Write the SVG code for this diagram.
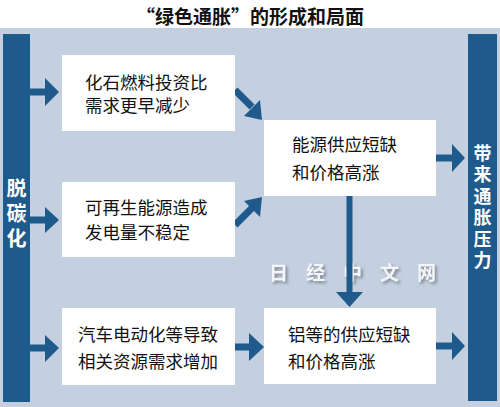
<svg xmlns="http://www.w3.org/2000/svg" width="500" height="407" viewBox="0 0 500 407">
<style>
.bar{fill:#1f5a8c}
.box{fill:#ffffff}
.arr{fill:#1f5a8c}
.shaft{stroke:#1f5a8c;stroke-width:7;fill:none}
.t{font-family:"Noto Sans CJK SC","Noto Sans",sans-serif;font-size:17.5px;fill:#111}
.bt{font-family:"Noto Sans CJK SC","Noto Sans",sans-serif;font-size:18px;font-weight:bold;fill:#fff;writing-mode:vertical-rl;text-anchor:start}
.title{font-family:"Noto Sans CJK SC","Noto Sans",sans-serif;font-size:19px;font-weight:bold;fill:#111;text-anchor:middle}
.wm{font-family:"Noto Sans CJK SC",sans-serif;font-size:19px;font-weight:bold;letter-spacing:18px;fill:#f4f5f8}
</style>
<defs>
<filter id="wmShadow" x="-10%" y="-50%" width="120%" height="200%">
<feDropShadow dx="2" dy="2" stdDeviation="1.5" flood-color="#5a6272" flood-opacity="0.7"/>
</filter>
</defs>
<rect x="0" y="0" width="500" height="407" fill="#ffffff"/>
<rect x="0" y="28" width="500" height="379" fill="#c4cfdf"/>
<text class="title" x="250" y="24">“绿色通胀”的形成和局面</text>

<g id="watermark">
<text class="wm" x="269" y="280" filter="url(#wmShadow)">日经中文网</text>
</g>

<g id="connectors">
<line class="shaft" x1="30" y1="92" x2="46" y2="92"/>
<polygon class="arr" points="45,78 59,92 45,106"/>
<line class="shaft" x1="30" y1="220" x2="46" y2="220"/>
<polygon class="arr" points="45,207 59,220 45,233"/>
<line class="shaft" x1="30" y1="348" x2="46" y2="348"/>
<polygon class="arr" points="45,335 59,348 45,362"/>
<line class="shaft" x1="235" y1="90" x2="252" y2="107"/>
<polygon class="arr" points="260,100 244,116 262,120"/>
<line class="shaft" x1="235" y1="225" x2="252" y2="208"/>
<polygon class="arr" points="260,217 244,201 262,197"/>
<line class="shaft" x1="235" y1="347" x2="250" y2="347"/>
<polygon class="arr" points="249,333 264,347 249,361"/>
<line class="shaft" x1="436" y1="158" x2="453" y2="158"/>
<polygon class="arr" points="452,144 465,158 452,172"/>
<line class="shaft" x1="436" y1="346" x2="453" y2="346"/>
<polygon class="arr" points="452,332 465,346 452,360"/>
<line class="shaft" x1="349.5" y1="196" x2="349.5" y2="293" style="stroke-width:6"/>
<polygon class="arr" points="336,292 363,292 349.5,307"/>
</g>

<g id="decarbon">
<rect class="bar" x="3" y="34" width="27" height="368"/>
<text class="bt" x="16.5" y="178" style="font-size:20px;letter-spacing:5px">脱碳化</text>
</g>

<g id="inflation">
<rect class="bar" x="468" y="34" width="29" height="367"/>
<text class="bt" x="482.5" y="144" style="letter-spacing:3.5px">带来通胀压力</text>
</g>

<g id="fossil">
<rect class="box" x="62" y="55" width="173" height="76"/>
<text class="t" x="85" y="89">化石燃料投资比</text>
<text class="t" x="85" y="112">需求更早减少</text>
</g>

<g id="renewable">
<rect class="box" x="62" y="182" width="173" height="75"/>
<text class="t" x="85" y="214">可再生能源造成</text>
<text class="t" x="85" y="239">发电量不稳定</text>
</g>

<g id="ev">
<rect class="box" x="62" y="308" width="173" height="77"/>
<text class="t" x="78" y="341">汽车电动化等导致</text>
<text class="t" x="78" y="368">相关资源需求增加</text>
</g>

<g id="energy">
<rect class="box" x="264" y="120" width="172" height="76"/>
<text class="t" x="292" y="151">能源供应短缺</text>
<text class="t" x="292" y="179">和价格高涨</text>
</g>

<g id="aluminum">
<rect class="box" x="264" y="308" width="172" height="76"/>
<text class="t" x="288" y="341">铝等的供应短缺</text>
<text class="t" x="288" y="368">和价格高涨</text>
</g>
</svg>
